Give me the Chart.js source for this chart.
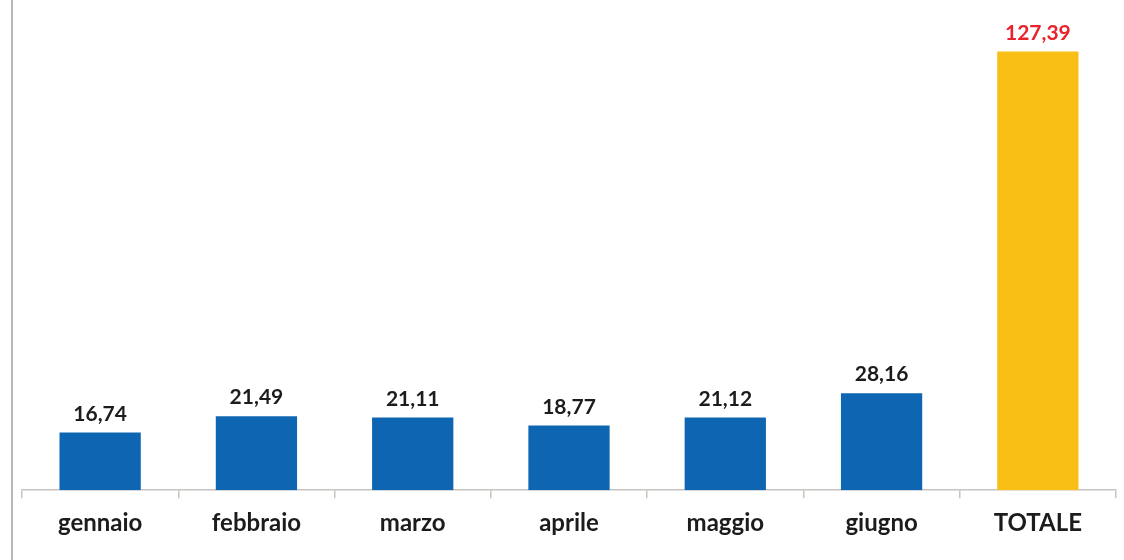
<!DOCTYPE html>
<html>
<head>
<meta charset="utf-8">
<script src="https://cdn.jsdelivr.net/npm/chart.js@4"></script>
<style>
  html, body { margin: 0; padding: 0; background: #fff; }
  #wrap { position: relative; width: 1124px; height: 560px; }
  #edge { position: absolute; left: 11px; top: 0; width: 2px; height: 560px; background: #b9b9b9; }
  canvas { position: absolute; left: 0; top: 0; }
</style>
</head>
<body>
<div id="wrap">
  <canvas id="c" width="1124" height="560"></canvas>
  <div id="edge"></div>
</div>
<script>
const categories = ["gennaio", "febbraio", "marzo", "aprile", "maggio", "giugno", "TOTALE"];
const values = [16.74, 21.49, 21.11, 18.77, 21.12, 28.16, 127.39];
const barColors = ["#0e66b2", "#0e66b2", "#0e66b2", "#0e66b2", "#0e66b2", "#0e66b2", "#f9bf14"];
const labelColors = ["#1c1c1c", "#1c1c1c", "#1c1c1c", "#1c1c1c", "#1c1c1c", "#1c1c1c", "#e8232b"];

const valueLabels = {
  id: "valueLabels",
  afterDatasetsDraw(chart) {
    const ctx = chart.ctx;
    const meta = chart.getDatasetMeta(0);
    ctx.save();
    ctx.font = "bold 21px Lato, 'Open Sans', sans-serif";
    ctx.textAlign = "center";
    ctx.textBaseline = "bottom";
    meta.data.forEach((bar, i) => {
      ctx.fillStyle = labelColors[i];
      ctx.fillText(values[i].toFixed(2).replace(".", ","), bar.x, bar.y - 8);
    });
    ctx.restore();
  }
};

new Chart(document.getElementById("c"), {
  type: "bar",
  data: {
    labels: categories,
    datasets: [{
      data: values,
      backgroundColor: barColors,
      borderWidth: 0,
      barPercentage: 0.52,
      categoryPercentage: 1
    }]
  },
  options: {
    responsive: false,
    animation: false,
    layout: { padding: { left: 22, right: 8, top: 8, bottom: 11 } },
    plugins: { legend: { display: false }, tooltip: { enabled: false } },
    scales: {
      y: { display: false, min: 0, max: 140 },
      x: {
        grid: { drawOnChartArea: false, drawTicks: true, tickLength: 8, color: "#c8c4c0", lineWidth: 1.5 },
        border: { display: true, color: "#c8c4c0", width: 1.5 },
        ticks: {
          color: "#1c1c1c",
          padding: 11,
          font: { family: "Lato, 'Open Sans', sans-serif", size: 24, weight: "bold" }
        }
      }
    }
  },
  plugins: [valueLabels]
});
</script>
</body>
</html>
